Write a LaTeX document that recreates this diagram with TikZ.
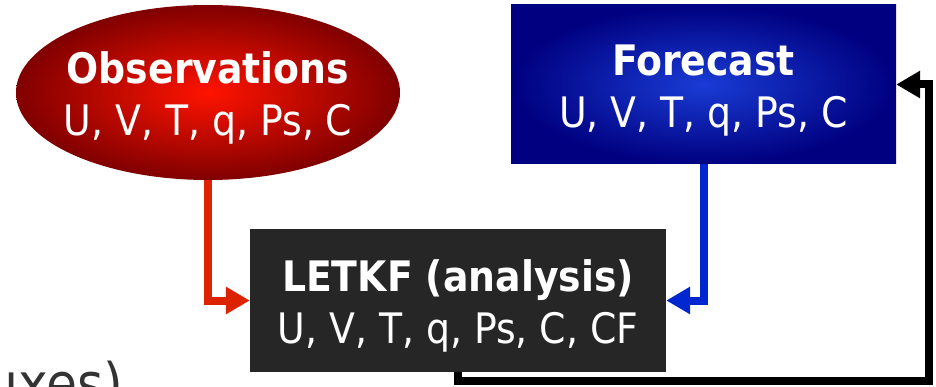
\documentclass[tikz,border=0pt]{standalone}
\usepackage{fontspec}
\setmainfont{DejaVu Sans Condensed}
\usetikzlibrary{arrows.meta,shapes.geometric}
\definecolor{obsred}{HTML}{DD2200}
\definecolor{fcblue}{HTML}{0026D0}
\definecolor{anagray}{HTML}{262626}
\newcommand{\topstrut}{\rule{0pt}{43pt}}
\begin{document}
\begin{tikzpicture}[x=1pt, y=-1pt,
    box/.style={text=white, align=center, font=\fontsize{42}{52}\selectfont, inner sep=0pt},
    flow/.style={line width=8pt, -{Triangle[length=24pt, width=26pt]}}]

            \clip (0,0) rectangle (936,387);

            % Nodes
            \node[box, ellipse, inner xsep=-12pt, minimum width=384pt, minimum height=175pt,
                  inner color=red!85!orange, outer color=red!50!black] (obs) at (208,92.5)
                  {\topstrut\textbf{Observations}\\U, V, T, q, Ps, C};
            \node[box, rectangle, minimum width=385pt, minimum height=159pt,
                  inner color=fcblue!90!white, outer color=blue!50!black] (fc) at (703.5,84.5)
                  {\topstrut\textbf{Forecast}\\U, V, T, q, Ps, C};
            \node[box, rectangle, fill=anagray, minimum width=416pt, minimum height=143pt] (an) at (458,300.5)
                  {\topstrut\textbf{LETKF (analysis)}\\U, V, T, q, Ps, C, CF};
            \node[anchor=base west, text=black!80, inner sep=0pt, font=\fontsize{56}{56}\selectfont] (fl) at (-14,403) {uxes)};
            \coordinate (loop) at (929,381);

            % Arrows
            \draw[flow, obsred] (obs.south) |- (an.west);
            \draw[flow, fcblue] (fc.south) |- (an.east);
            \draw[flow, black] (an.south) |- (loop) |- (fc.east);
          \end{tikzpicture}
\end{document}
